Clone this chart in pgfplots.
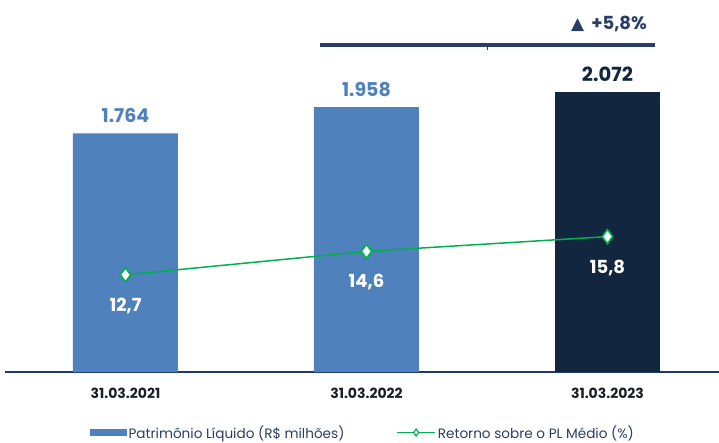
\documentclass[border=0pt]{standalone}
\usepackage{pgfplots}
\pgfplotsset{compat=1.18}
\usepackage{pgfplotstable}
\usepackage{fontspec}
\setmainfont{Poppins}
\newfontfamily\dejavu{DejaVu Sans}
\definecolor{barblue}{RGB}{79,129,189}
\definecolor{bardark}{RGB}{18,38,64}
\definecolor{lgreen}{RGB}{0,176,80}
\definecolor{axnavy}{RGB}{31,56,100}
\definecolor{brk}{RGB}{40,62,100}
\definecolor{txtdark}{RGB}{28,30,40}
\definecolor{legtxt}{RGB}{45,60,95}

\pgfplotstableread{
x y lab
0 1764 1.764
1 1958 1.958
}\pastbars
\pgfplotstableread{
x y lab
2 2072 2.072
}\curbar
\pgfplotstableread{
x y lab
0 12.7 12,7
1 14.6 14,6
2 15.8 15,8
}\roe

\begin{document}
\begin{tikzpicture}
\path[use as bounding box] (0pt,0pt) rectangle (719pt,442pt);
\begin{axis}[
  at={(5pt,70pt)}, anchor=south west,
  scale only axis, width=714pt, height=352pt,
  xmin=-0.5, xmax=2.463, ymin=0, ymax=2601,
  axis x line*=bottom, axis y line=none,
  x axis line style={axnavy, line width=1.3pt, -},
  xtick={0,1,2}, xticklabels={31.03.2021,31.03.2022,31.03.2023},
  major tick length=0pt,
  xticklabel style={font=\bfseries\fontsize{14}{16}\selectfont, text=txtdark, yshift=-13pt},
  ybar, bar width=105pt, bar shift=0pt,
  legend columns=2,
  legend style={at={(0.501,-0.172)}, anchor=center, draw=none, fill=none,
    font=\fontsize{13.6}{15}\selectfont, text=legtxt,
    /tikz/every even column/.append style={column sep=50pt}},
]
\addplot[fill=barblue, draw=none,
  nodes near coords, point meta=explicit symbolic,
  every node near coord/.append style={font=\bfseries\fontsize{19}{22}\selectfont, text=barblue, yshift=7pt},
  legend image code/.code={\fill[barblue] (0pt,-3.5pt) rectangle (37pt,3.5pt);}
] table[x=x, y=y, meta=lab] {\pastbars};
\addlegendentry{Patrimônio Líquido (R\$ milhões)}
\addplot[fill=bardark, draw=none, forget plot,
  nodes near coords, point meta=explicit symbolic,
  every node near coord/.append style={font=\bfseries\fontsize{19.5}{22}\selectfont, text=bardark, yshift=6pt}
] table[x=x, y=y, meta=lab] {\curbar};
\addlegendimage{legend image code/.code={
  \draw[lgreen, line width=1.4pt] (0pt,0pt) -- (38pt,0pt);
  \draw[lgreen, line width=1.2pt, fill=white] (19pt,3.5pt) -- (21.5pt,0pt) -- (19pt,-3.5pt) -- (16.5pt,0pt) -- cycle;}}
\addlegendentry{Retorno sobre o PL Médio (\%)}
\end{axis}
\begin{axis}[
  at={(5pt,70pt)}, anchor=south west,
  scale only axis, width=714pt, height=352pt,
  xmin=-0.5, xmax=2.463, ymin=4.8, ymax=33.4,
  hide axis,
]
\addplot[lgreen, line width=1.5pt, mark=diamond*, mark size=7pt,
  mark options={fill=white, draw=lgreen, line width=1.6pt},
  nodes near coords, point meta=explicit symbolic,
  every node near coord/.append style={anchor=north, text=white, font=\bfseries\fontsize{18}{20}\selectfont, yshift=-19pt}
] table[x=x, y=y, meta=lab] {\roe};
\end{axis}
\draw[brk, line width=3.6pt] (320pt,397pt) -- (655pt,397pt);
\draw[brk, line width=1pt] (487pt,397pt) -- (487pt,392pt);
\node[anchor=base west, inner sep=0pt, text=brk] at (571pt,412pt)
  {{\dejavu\fontsize{17}{20}\selectfont ▲}\hspace{7pt}{\bfseries\fontsize{18}{21}\selectfont +5,8\%}};
\end{tikzpicture}
\end{document}
